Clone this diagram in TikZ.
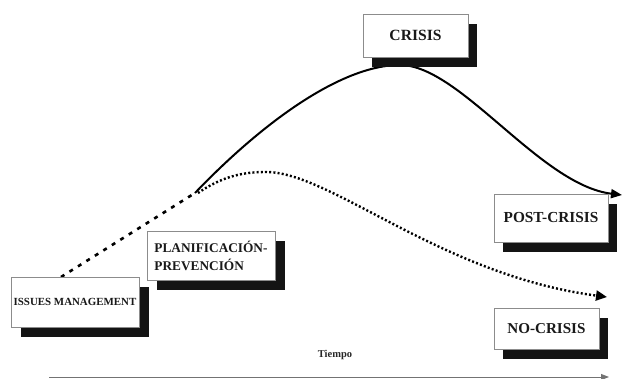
\documentclass[tikz,border=0pt]{standalone}
\usepackage{fontspec}
\setmainfont{Liberation Serif}
\usetikzlibrary{arrows.meta,shadows}
\begin{document}
\begin{tikzpicture}[x=1pt,y=-1pt,
  stagebox/.style={draw=black!45, line width=0.8pt, fill=white, inner sep=0pt,
    font=\bfseries, text=black!90,
    drop shadow={shadow xshift=#1, shadow yshift=-10pt, fill=black!92, opacity=1}},
  stagebox/.default=10pt,
  solidcurve/.style={line width=2pt, -{Triangle[length=11pt,width=9pt]}},
  dashcurve/.style={line width=2.6pt, dash pattern=on 4pt off 6pt},
  dotcurve/.style={line width=2.4pt, dash pattern=on 2pt off 2.2pt, -{Triangle[length=11pt,width=10pt]}},
  axis/.style={line width=0.9pt, draw=black!55, -{Triangle[length=8pt,width=6pt]}}
]
\useasboundingbox (0,0) rectangle (623,378);

% curve points
\coordinate (dstart) at (61,277);
\coordinate (fork) at (195,193);
\coordinate (forkd) at (198,193);
\coordinate (peak) at (400,65);
\coordinate (solidend) at (622,195);
\coordinate (dotpeak) at (265,172);
\coordinate (dotend) at (607,297);
\coordinate (axstart) at (49,377);
\coordinate (axend) at (609,377);

\draw[dashcurve] (dstart) -- (fork);
\draw[solidcurve] (fork) .. controls (260,125) and (340,65) .. (peak)
  .. controls (460,65) and (540,185) .. (solidend);
\draw[dotcurve] (forkd) .. controls (220,178) and (240,172) .. (dotpeak)
  .. controls (330,171) and (440,275) .. (dotend);
\draw[axis] (axstart) -- (axend);

\node[stagebox, minimum width=128pt, minimum height=50pt, font=\bfseries\fontsize{10.9}{13}\selectfont]
  (issues) at (75,302) {ISSUES MANAGEMENT};
\node[stagebox, minimum width=128pt, minimum height=49pt, align=left, font=\bfseries\fontsize{13.3}{18}\selectfont]
  (plan) at (211,255.5) {PLANIFICACIÓN-\\PREVENCIÓN};
\node[stagebox=9pt, minimum width=105pt, minimum height=43pt, font=\bfseries\fontsize{15.6}{18}\selectfont]
  (crisis) at (415.5,35.5) {CRISIS};
\node[stagebox=9pt, minimum width=114pt, minimum height=48pt, font=\bfseries\fontsize{15.3}{18}\selectfont]
  (post) at (551,218) {POST-CRISIS};
\node[stagebox=8.5pt, minimum width=105pt, minimum height=41pt, font=\bfseries\fontsize{15.1}{18}\selectfont]
  (nocrisis) at (546.5,328.5) {NO-CRISIS};

\node[font=\bfseries\fontsize{10.5}{12}\selectfont, text=black!85] (tiempo) at (335,355) {Tiempo};
\end{tikzpicture}
\end{document}
